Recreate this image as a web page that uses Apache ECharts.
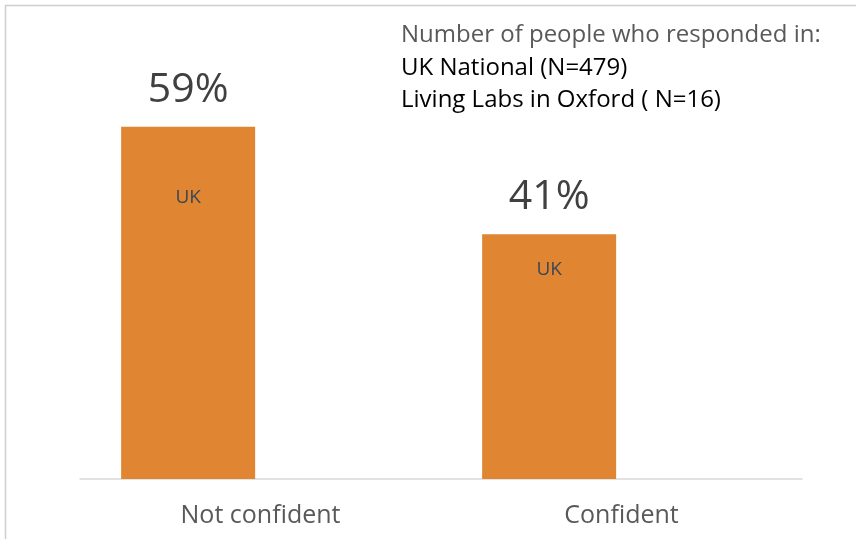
<!DOCTYPE html>
<html>
<head>
<meta charset="utf-8">
<script src="https://cdn.jsdelivr.net/npm/echarts@6/dist/echarts.min.js"></script>
<style>
  html, body { margin: 0; padding: 0; background: #ffffff; }
  #chart { width: 856px; height: 539px; }
</style>
</head>
<body>
<div id="chart"></div>
<script>
// Survey answers: share of respondents by confidence level
const categories = ['Not confident', 'Confident'];
const ukValues = [59, 41];            // UK National, percent
const livingLabsValues = ['-', '-'];  // Living Labs in Oxford (not drawn)
const ukInnerLabel = 'UK';
const noteLines = [
  'Number of people who responded in:',
  'UK National (N=479)',
  'Living Labs in Oxford ( N=16)'
];

const FONT = '"Open Sans", "Noto Sans", sans-serif';
const ORANGE = '#e08632';
const BAR_W = 134;
const BAR_GAP = '8%';

// distance of the "UK" tag below each bar's top edge
const ukTagDistance = [61, 26];

const chart = echarts.init(document.getElementById('chart'), null, { renderer: 'canvas' });

const option = {
  backgroundColor: '#ffffff',
  animation: false,
  grid: { left: 80, right: 54, top: 61, bottom: 60 },
  xAxis: [
    {
      type: 'category',
      data: categories,
      axisLine: { show: true, lineStyle: { color: '#d9d9d9', width: 1.5 } },
      axisTick: { show: false },
      axisLabel: { color: '#595959', fontSize: 25, fontFamily: FONT, margin: 24 }
    },
    {
      type: 'category',
      data: categories,
      show: false
    }
  ],
  yAxis: {
    type: 'value',
    min: 0,
    max: 70,
    show: false,
    splitLine: { show: false }
  },
  series: [
    {
      name: 'UK National',
      type: 'bar',
      xAxisIndex: 0,
      data: ukValues,
      barWidth: BAR_W,
      barGap: BAR_GAP,
      itemStyle: { color: ORANGE },
      label: {
        show: true,
        position: 'top',
        distance: 16,
        formatter: p => p.value + '%',
        color: '#404040',
        fontSize: 41,
        fontFamily: FONT
      }
    },
    {
      name: 'Living Labs in Oxford',
      type: 'bar',
      xAxisIndex: 0,
      data: livingLabsValues,
      barWidth: BAR_W,
      barGap: BAR_GAP,
      itemStyle: { color: '#a5a5a5' }
    },
    {
      // transparent twin of the UK bars carrying the inner "UK" tag
      name: 'UK tag',
      type: 'bar',
      xAxisIndex: 1,
      data: ukValues.map((v, i) => ({
        value: v,
        label: { distance: ukTagDistance[i] }
      })),
      barWidth: BAR_W,
      barGap: BAR_GAP,
      silent: true,
      itemStyle: { color: 'rgba(0,0,0,0)' },
      label: {
        show: true,
        position: 'insideTop',
        formatter: ukInnerLabel,
        color: '#3c4656',
        fontSize: 19,
        fontFamily: FONT
      }
    },
    {
      name: 'Living Labs tag',
      type: 'bar',
      xAxisIndex: 1,
      data: livingLabsValues,
      barWidth: BAR_W,
      barGap: BAR_GAP,
      silent: true,
      itemStyle: { color: 'rgba(0,0,0,0)' }
    }
  ],
  graphic: [
    {
      type: 'rect',
      shape: { x: 5.5, y: 5.5, width: 900, height: 600 },
      style: { fill: 'none', stroke: '#cfcfcf', lineWidth: 1.5 },
      silent: true
    },
    {
      type: 'text',
      left: 401,
      top: 23,
      style: {
        text: noteLines[0],
        fill: '#595959',
        font: '24px ' + FONT
      }
    },
    {
      type: 'text',
      left: 401,
      top: 56,
      style: {
        text: noteLines[1],
        fill: '#000000',
        font: '24px ' + FONT
      }
    },
    {
      type: 'text',
      left: 401,
      top: 88,
      style: {
        text: noteLines[2],
        fill: '#000000',
        font: '24px ' + FONT
      }
    }
  ]
};

chart.setOption(option);
</script>
</body>
</html>
